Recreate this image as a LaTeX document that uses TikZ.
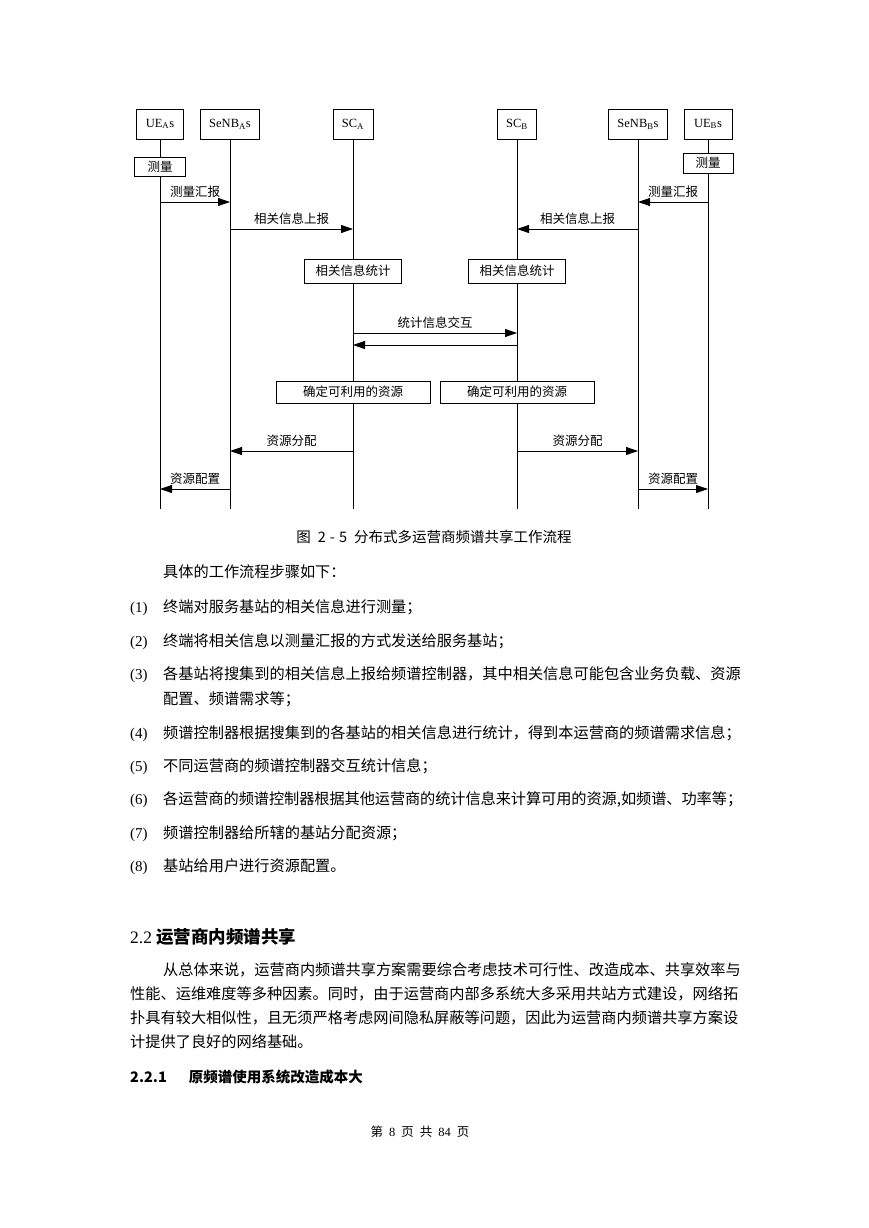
\documentclass[tikz,border=0pt]{standalone}
\usepackage{fontspec}
\setmainfont{Liberation Serif}
\newfontfamily\cjk{Noto Sans CJK SC}
\usetikzlibrary{arrows.meta}
\XeTeXlinebreaklocale "zh"
\XeTeXlinebreakskip=0pt plus 3pt minus 0.6pt

\tikzset{
  entity/.style={draw, line width=0.8pt, fill=white, minimum height=30pt, inner xsep=9pt, font=\fontsize{12.5}{14}\selectfont},
  stepbox/.style={draw, line width=0.8pt, fill=white, inner sep=0pt, font=\cjk\fontsize{12.5}{14}\selectfont},
  lifeline/.style={line width=0.8pt},
  msg/.style={line width=0.8pt, -{Triangle[length=12pt,width=8pt]}},
  lbl/.style={midway, above=3pt, inner sep=1pt, font=\cjk\fontsize{12.5}{14}\selectfont},
  body/.style={anchor=west, inner sep=0pt, font=\cjk\fontsize{15.2}{18}\selectfont},
  fullline/.style={body, text width=#1, align=justify},
  num/.style={anchor=base west, inner sep=0pt, font=\fontsize{15}{18}\selectfont},
}

\begin{document}
\begin{tikzpicture}[x=1pt, y=-1pt]
  \useasboundingbox (0,0) rectangle (869,1228);

  % heads of the lifelines
  \node[entity] (ueA) at (160,124) {UE\textsubscript{A}s};
  \node[entity] (senbA) at (230,124) {SeNB\textsubscript{A}s};
  \node[entity] (scA) at (353,124) {SC\textsubscript{A}};
  \node[entity] (scB) at (517,124) {SC\textsubscript{B}};
  \node[entity] (senbB) at (638,124) {SeNB\textsubscript{B}s};
  \node[entity, inner xsep=10pt] (ueB) at (708,124) {UE\textsubscript{B}s};

  \draw[lifeline] (ueA) -- (ueA |- 0,509);
  \draw[lifeline] (senbA) -- (senbA |- 0,509);
  \draw[lifeline] (scA) -- (scA |- 0,509);
  \draw[lifeline] (scB) -- (scB |- 0,509);
  \draw[lifeline] (senbB) -- (senbB |- 0,509);
  \draw[lifeline] (ueB) -- (ueB |- 0,509);

  % local steps
  \node[stepbox, minimum width=51pt, minimum height=19pt] (measA) at (ueA |- 0,166.5) {测量};
  \node[stepbox, minimum width=50pt, minimum height=20pt] (measB) at (ueB |- 0,163) {测量};
  \node[stepbox, minimum width=97pt, minimum height=24pt] (statA) at (scA |- 0,271) {相关信息统计};
  \node[stepbox, minimum width=97pt, minimum height=24pt] (statB) at (scB |- 0,271) {相关信息统计};
  \node[stepbox, minimum width=154pt, minimum height=22pt] (detA) at (scA |- 0,392) {确定可利用的资源};
  \node[stepbox, minimum width=154pt, minimum height=22pt] (detB) at (scB |- 0,392) {确定可利用的资源};

  % messages
  \draw[msg] (ueA |- 0,202) -- node[lbl] (l1) {测量汇报} (senbA |- 0,202);
  \draw[msg] (ueB |- 0,202) -- node[lbl] (l2) {测量汇报} (senbB |- 0,202);
  \draw[msg] (senbA |- 0,229) -- node[lbl] (l3) {相关信息上报} (scA |- 0,229);
  \draw[msg] (senbB |- 0,229) -- node[lbl] (l4) {相关信息上报} (scB |- 0,229);
  \draw[msg] (scA |- 0,333) -- node[lbl] (l5) {统计信息交互} (scB |- 0,333);
  \draw[msg] (scB |- 0,345) -- (scA |- 0,345);
  \draw[msg] (scA |- 0,451) -- node[lbl] (l6) {资源分配} (senbA |- 0,451);
  \draw[msg] (scB |- 0,451) -- node[lbl] (l7) {资源分配} (senbB |- 0,451);
  \draw[msg] (senbA |- 0,489) -- node[lbl] (l8) {资源配置} (ueA |- 0,489);
  \draw[msg] (senbB |- 0,489) -- node[lbl] (l9) {资源配置} (ueB |- 0,489);

  \node[font=\cjk\fontsize{14.5}{16}\selectfont] (caption) at (434,537) {图\hspace{7pt}2\hspace{4pt}-\hspace{4pt}5\hspace{7pt}分布式多运营商频谱共享工作流程};

  % steps of the flow
  \node[body] (intro) at (163,572) {具体的工作流程步骤如下：};
  \node[num] (n1) at (130,612) {(1)};
  \node[body] (s1) at (163,607) {终端对服务基站的相关信息进行测量；};
  \node[num] (n2) at (130,646) {(2)};
  \node[body] (s2) at (163,641) {终端将相关信息以测量汇报的方式发送给服务基站；};
  \node[num] (n3) at (130,679) {(3)};
  \node[fullline=579pt] (s3) at (163,674) {\parfillskip=0pt 各基站将搜集到的相关信息上报给频谱控制器，其中相关信息可能包含业务负载、资源};
  \node[body] (s3b) at (163,699) {配置、频谱需求等；};
  \node[num] (n4) at (130,738) {(4)};
  \node[fullline=579pt] (s4) at (163,733) {\parfillskip=0pt 频谱控制器根据搜集到的各基站的相关信息进行统计，得到本运营商的频谱需求信息；};
  \node[num] (n5) at (130,771) {(5)};
  \node[body] (s5) at (163,766) {不同运营商的频谱控制器交互统计信息；};
  \node[num] (n6) at (130,804) {(6)};
  \node[fullline=579pt] (s6) at (163,799) {\parfillskip=0pt 各运营商的频谱控制器根据其他运营商的统计信息来计算可用的资源,如频谱、功率等；};
  \node[num] (n7) at (130,838) {(7)};
  \node[body] (s7) at (163,833) {频谱控制器给所辖的基站分配资源；};
  \node[num] (n8) at (130,871) {(8)};
  \node[body] (s8) at (163,866) {基站给用户进行资源配置。};

  % next section
  \node[anchor=west, inner sep=0pt, font=\fontsize{17.5}{20}\selectfont] (head) at (130,937) {2.2 {\cjk\bfseries 运营商内频谱共享}};
  \node[fullline=579pt] (p1) at (163,970) {\parfillskip=0pt 从总体来说，运营商内频谱共享方案需要综合考虑技术可行性、改造成本、共享效率与};
  \node[fullline=612pt] (p2) at (130,994) {\parfillskip=0pt 性能、运维难度等多种因素。同时，由于运营商内部多系统大多采用共站方式建设，网络拓};
  \node[fullline=612pt] (p3) at (130,1018) {\parfillskip=0pt 扑具有较大相似性，且无须严格考虑网间隐私屏蔽等问题，因此为运营商内频谱共享方案设};
  \node[body] (p4) at (130,1042) {计提供了良好的网络基础。};
  \node[anchor=west, inner sep=0pt, font=\cjk\bfseries\fontsize{14.5}{17}\selectfont] (sub) at (130,1077) {2.2.1\hspace{22pt}原频谱使用系统改造成本大};

  \node[font=\fontsize{12.5}{14}\selectfont] (foot) at (420,1132) {{\cjk 第}\hspace{6pt}8\hspace{6pt}{\cjk 页}\hspace{6pt}{\cjk 共}\hspace{6pt}84\hspace{6pt}{\cjk 页}};
\end{tikzpicture}
\end{document}
